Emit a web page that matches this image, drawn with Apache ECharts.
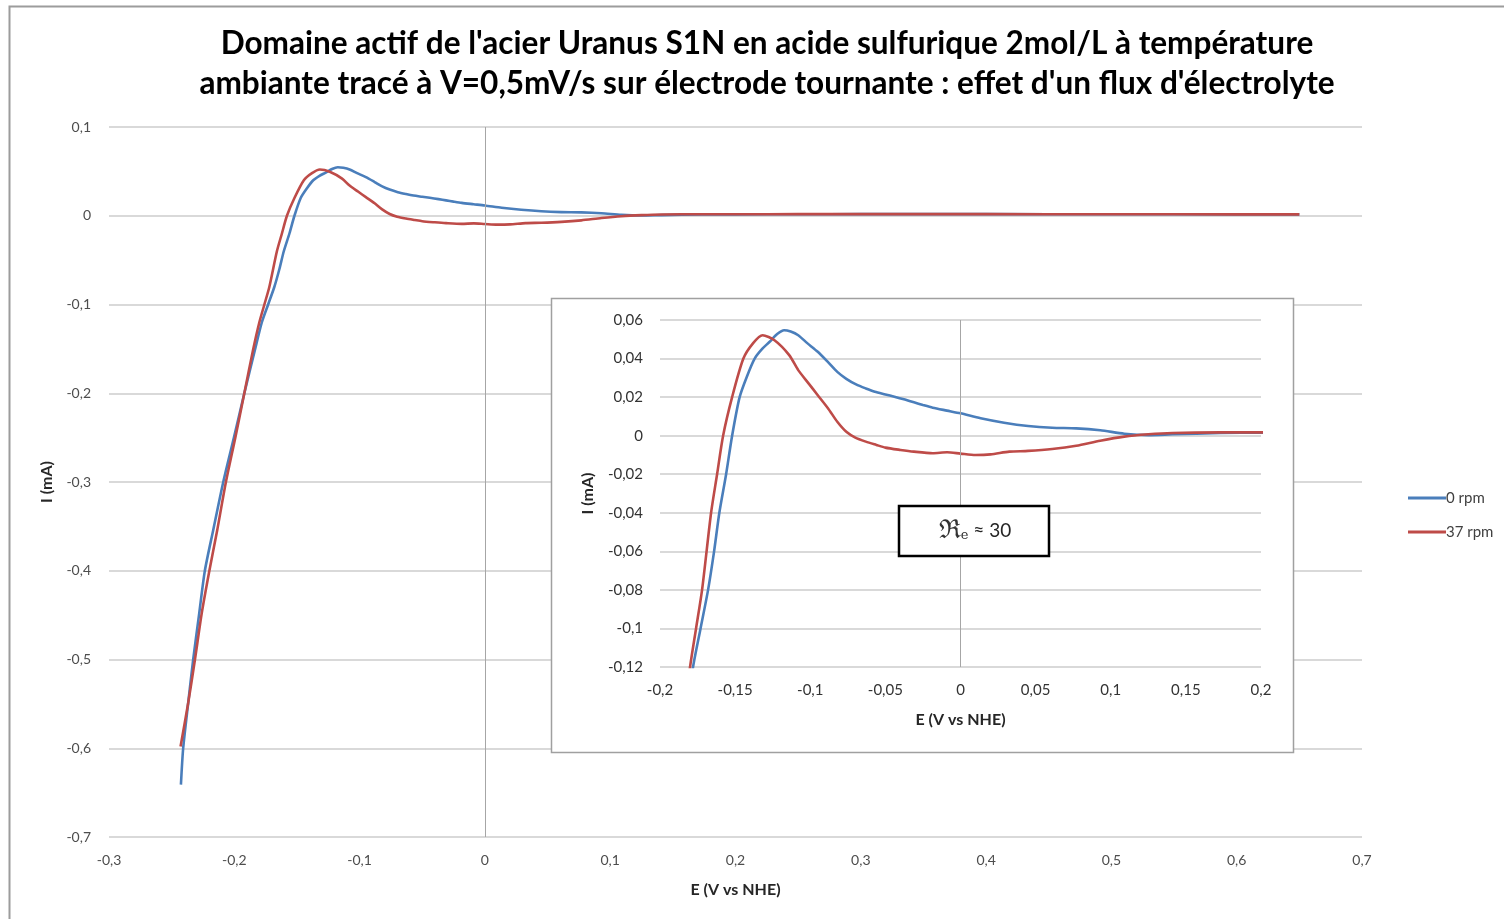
<!DOCTYPE html>
<html>
<head>
<meta charset="utf-8">
<title>Domaine actif de l'acier Uranus S1N</title>
<script src="https://cdn.jsdelivr.net/npm/echarts@6/dist/echarts.min.js"></script>
<style>
  html, body { margin: 0; padding: 0; background: #ffffff; }
  #chart { width: 1504px; height: 919px; }
</style>
</head>
<body>
<div id="chart"></div>
<script>
// Polarisation curves, potential E (V vs NHE) and current I (mA)
const seriesNames = ['0 rpm', '37 rpm'];

const E_0rpm = [
  -0.2426, -0.2408, -0.2368, -0.2328, -0.2280, -0.2235, -0.2168, -0.2088, -0.2003, -0.1920,
  -0.1835, -0.1780, -0.1730, -0.1680, -0.1640, -0.1605, -0.1560, -0.1520, -0.1470, -0.1420,
  -0.1370, -0.1320, -0.1270, -0.1220, -0.1174, -0.1130, -0.1080, -0.1020, -0.0950, -0.0880,
  -0.0820, -0.0760, -0.0695, -0.0630, -0.0570, -0.0500, -0.0440, -0.0370, -0.0310, -0.0250,
  -0.0185, -0.0090, 0.0000, 0.0134, 0.0290, 0.0450, 0.0610, 0.0770, 0.0930, 0.1090,
  0.1250, 0.1410, 0.1730, 0.2000, 0.2500, 0.3000, 0.4000, 0.5000, 0.6000, 0.6500
];
const I_0rpm = [
  -0.641, -0.600, -0.549, -0.500, -0.448, -0.400, -0.354, -0.300, -0.250, -0.200,
  -0.151, -0.120, -0.100, -0.080, -0.060, -0.040, -0.020, 0.000, 0.020, 0.031,
  0.040, 0.045, 0.0487, 0.0527, 0.0547, 0.0540, 0.0521, 0.0480, 0.0435, 0.0380,
  0.0331, 0.0295, 0.0266, 0.0245, 0.0228, 0.0214, 0.0202, 0.0187, 0.0173, 0.0159,
  0.0145, 0.0130, 0.0116, 0.0090, 0.0067, 0.0050, 0.0041, 0.0038, 0.0028, 0.0010,
  0.0003, 0.0007, 0.0014, 0.0016, 0.0017, 0.0018, 0.0018, 0.0017, 0.0016, 0.0016
];

const E_37rpm = [
  -0.2429, -0.2368, -0.2314, -0.2260, -0.2199, -0.2136, -0.2067, -0.1992, -0.1920, -0.1850,
  -0.1800, -0.1760, -0.1720, -0.1660, -0.1620, -0.1580, -0.1520, -0.1445, -0.1380, -0.1317,
  -0.1238, -0.1140, -0.1080, -0.1010, -0.0950, -0.0880, -0.0820, -0.0760, -0.0700, -0.0630,
  -0.0560, -0.0500, -0.0400, -0.0310, -0.0185, -0.0089, 0.0000, 0.0100, 0.0200, 0.0325,
  0.0450, 0.0610, 0.0770, 0.0930, 0.1090, 0.1250, 0.1410, 0.1730, 0.2000, 0.2500,
  0.3000, 0.4000, 0.5000, 0.6000, 0.6500
];
const I_37rpm = [
  -0.598, -0.549, -0.500, -0.448, -0.400, -0.354, -0.300, -0.250, -0.200, -0.151,
  -0.120, -0.100, -0.080, -0.040, -0.020, 0.000, 0.020, 0.040, 0.048, 0.0521,
  0.0495, 0.0418, 0.0340, 0.0270, 0.0210, 0.0140, 0.0072, 0.0020, -0.0010, -0.0031,
  -0.0048, -0.0062, -0.0074, -0.0083, -0.0091, -0.0086, -0.0093, -0.0100, -0.0097, -0.0083,
  -0.0079, -0.0069, -0.0052, -0.0026, -0.0005, 0.0007, 0.0014, 0.0017, 0.0017, 0.0018,
  0.0018, 0.0018, 0.0017, 0.0016, 0.0016
];

const titleLines = [
  "Domaine actif de l'acier Uranus S1N en acide sulfurique 2mol/L à température",
  "ambiante tracé à V=0,5mV/s sur électrode tournante : effet d'un flux d'électrolyte"
];
const xAxisTitle = 'E (V vs NHE)';
const yAxisTitle = 'I (mA)';
const reynoldsValue = '30';

const colors = ['#4a7ebb', '#be4b48'];
const FONT = 'Lato, "Open Sans", "Noto Sans", sans-serif';

function zip(xs, ys) { return xs.map((x, i) => [x, ys[i]]); }
const data0 = zip(E_0rpm, I_0rpm);
const data37 = zip(E_37rpm, I_37rpm);

// French decimal comma for tick labels
function frNum(v) {
  const r = Math.round(v * 1000) / 1000;
  return String(r).replace('.', ',');
}

// Fit the title font size so the first line spans the chosen width
function fitSize(text, weight, family, width) {
  const c = document.createElement('canvas').getContext('2d');
  c.font = weight + ' 100px ' + family;
  return 100 * width / c.measureText(text).width;
}
const titleSize = fitSize(titleLines[0], 'bold', FONT, 1093);

const zeroLine = (color) => ({
  silent: true,
  symbol: ['none', 'none'],
  label: { show: false },
  lineStyle: { color: color, width: 1, type: 'solid' },
  data: [{ xAxis: 0 }]
});

const chart = echarts.init(document.getElementById('chart'), null, { renderer: 'canvas' });

const mainTick = { color: '#4d4d4d', fontSize: 14, fontFamily: FONT };
const insetTick = { color: '#333333', fontSize: 15, fontFamily: FONT };
const axisName = { fontFamily: FONT, fontWeight: 'bold', fontSize: 16, color: '#262626' };

function lineSeries(idx, axis, z) {
  const s = {
    name: seriesNames[idx], type: 'line', xAxisIndex: axis, yAxisIndex: axis,
    data: idx === 0 ? data0 : data37,
    symbol: 'none', showSymbol: false, smooth: 0.25, clip: true,
    lineStyle: { color: colors[idx], width: 2.6 }, itemStyle: { color: colors[idx] },
    z: z
  };
  if (idx === 0) s.markLine = zeroLine('#a6a6a6');
  return s;
}

chart.setOption({
  animation: false,
  backgroundColor: '#ffffff',
  title: {
    text: titleLines.join('\n'),
    left: 762,
    textAlign: 'center',
    top: 19,
    textStyle: {
      fontFamily: FONT, fontWeight: 'bold', fontSize: titleSize,
      color: '#000000', lineHeight: 40
    }
  },
  legend: {
    data: seriesNames,
    orient: 'vertical',
    left: 1403,
    top: 485,
    icon: 'rect',
    itemWidth: 38,
    itemHeight: 3,
    itemGap: 18,
    selectedMode: false,
    textStyle: { color: '#404040', fontSize: 15, fontFamily: FONT, padding: [0, 0, 0, -5], lineHeight: 16 }
  },
  grid: [
    { left: 109, right: 142, top: 127, bottom: 82 },
    { left: 660, top: 320, width: 601, height: 347, z: 3 }
  ],
  xAxis: [
    {
      gridIndex: 0, type: 'value', min: -0.3, max: 0.7, interval: 0.1,
      name: xAxisTitle, nameLocation: 'middle', nameGap: 45,
      nameTextStyle: axisName,
      axisLine: { show: false }, axisTick: { show: false },
      splitLine: { show: false },
      axisLabel: Object.assign({ margin: 16, formatter: frNum }, mainTick)
    },
    {
      gridIndex: 1, type: 'value', min: -0.2, max: 0.2, interval: 0.05, z: 3,
      name: xAxisTitle, nameLocation: 'middle', nameGap: 45,
      nameTextStyle: axisName,
      axisLine: { show: false }, axisTick: { show: false },
      splitLine: { show: false },
      axisLabel: Object.assign({ margin: 16, formatter: frNum }, insetTick)
    }
  ],
  yAxis: [
    {
      gridIndex: 0, type: 'value', min: -0.7, max: 0.1, interval: 0.1,
      name: yAxisTitle, nameLocation: 'middle', nameGap: 54,
      nameTextStyle: axisName,
      axisLine: { show: false }, axisTick: { show: false },
      splitLine: { lineStyle: { color: '#d9d9d9', width: 2 } },
      axisLabel: Object.assign({ margin: 18, formatter: frNum }, mainTick)
    },
    {
      gridIndex: 1, type: 'value', min: -0.12, max: 0.06, interval: 0.02, z: 3,
      name: yAxisTitle, nameLocation: 'middle', nameGap: 64,
      nameTextStyle: axisName,
      axisLine: { show: false }, axisTick: { show: false },
      splitLine: { lineStyle: { color: '#d9d9d9', width: 2 } },
      axisLabel: Object.assign({ margin: 17, formatter: frNum }, insetTick)
    }
  ],
  series: [
    lineSeries(0, 0, 2),
    lineSeries(1, 0, 2),
    lineSeries(0, 1, 4),
    lineSeries(1, 1, 4)
  ],
  graphic: {
    elements: [
      // outer chart frame
      {
        type: 'rect', z: 0, silent: true,
        shape: { x: 9.5, y: 6.5, width: 1520, height: 940 },
        style: { fill: 'none', stroke: '#9c9c9c', lineWidth: 2 }
      },
      // inset panel
      {
        type: 'rect', z: 1, silent: true,
        shape: { x: 551.5, y: 298.5, width: 742, height: 454 },
        style: { fill: '#ffffff', stroke: '#a0a0a0', lineWidth: 1.5 }
      },
      // Reynolds number box
      {
        type: 'rect', z: 10, silent: true,
        shape: { x: 899, y: 506, width: 150, height: 50 },
        style: { fill: '#ffffff', stroke: '#000000', lineWidth: 2.5 }
      },
      {
        type: 'text', z: 11, silent: true,
        x: 975, y: 531,
        style: {
          text: '{r|ℜ}{e|e}{t| ≈ ' + reynoldsValue + '}',
          align: 'center', verticalAlign: 'middle',
          rich: {
            r: { fontFamily: '"DejaVu Serif", serif', fontSize: 26, fill: '#333333' },
            e: { fontFamily: '"DejaVu Serif", serif', fontSize: 13, fill: '#333333', padding: [9, 0, 0, 0] },
            t: { fontFamily: FONT, fontSize: 19, fill: '#262626' }
          }
        }
      }
    ]
  }
});
</script>
</body>
</html>
